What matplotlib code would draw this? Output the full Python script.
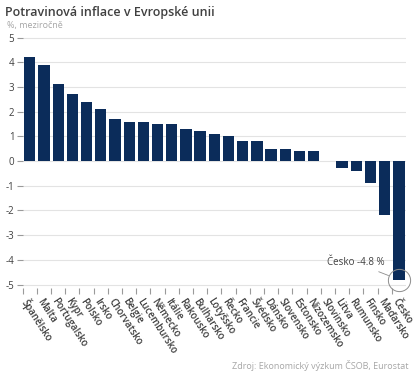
import matplotlib
matplotlib.use("Agg")
import matplotlib.pyplot as plt
import matplotlib.transforms as mtransforms
import numpy as np

# data
countries = ["Španělsko", "Malta", "Portugalsko", "Kypr", "Polsko", "Irsko",
             "Chorvatsko", "Belgie", "Lucembursko", "Německo", "Itálie",
             "Rakousko", "Bulharsko", "Lotyšsko", "Řecko", "Francie",
             "Švédsko", "Dánsko", "Slovensko", "Estonsko", "Nizozemsko",
             "Slovinsko", "Litva", "Rumunsko", "Finsko", "Maďarsko", "Česko"]
inflation = [4.2, 3.9, 3.1, 2.7, 2.4, 2.1, 1.7, 1.6, 1.6, 1.5, 1.5,
             1.3, 1.2, 1.1, 1.0, 0.8, 0.8, 0.5, 0.5, 0.4, 0.4,
             0.0, -0.3, -0.4, -0.9, -2.2, -4.8]
y_ticks = [5, 4, 3, 2, 1, 0, -1, -2, -3, -4, -5]
highlight = "Česko"

plt.rcParams['font.family'] = ['Open Sans', 'DejaVu Sans']
navy = "#0b2c5a"
dark = "#404040"
light = "#a6a6a6"

fig = plt.figure(figsize=(4.19, 3.81), dpi=100)
ax = fig.add_axes([0.0542, 0.2441, 0.9148, 0.6606])

x = np.arange(len(countries))
ax.bar(x, inflation, width=0.8, color=navy, linewidth=0, zorder=3)

ax.set_xlim(-0.5, len(countries) - 0.5)
ax.set_ylim(-5.14, 5.05)
ax.set_yticks(y_ticks)
ax.set_yticklabels([str(v) for v in y_ticks])
ax.grid(axis="y", color="#e3e3e3", linewidth=0.8, zorder=0)
for s in ax.spines.values():
    s.set_visible(False)

ax.tick_params(axis="y", length=4, width=0.8, color="#9a9a9a", labelsize=7,
               labelcolor=dark, pad=2)
ax.set_xticks(x)
ax.set_xticklabels(countries, rotation=-57, ha="left", va="top",
                   rotation_mode="anchor", fontsize=7, fontweight="semibold",
                   color=dark)
shift = mtransforms.ScaledTranslation(3 / 72, 0, fig.dpi_scale_trans)
for lab in ax.get_xticklabels():
    lab.set_transform(lab.get_transform() + shift)
ax.set_xticks(x - 0.5, minor=True)
ax.tick_params(axis="x", which="major", length=0, pad=6)
ax.tick_params(axis="x", which="minor", length=4, width=0.8, color="#9a9a9a")

# highlight Česko
i = countries.index(highlight)
v = inflation[i]
ax.plot([i], [v], marker="o", markersize=16, markerfacecolor="none",
        markeredgecolor="#8c8c8c", markeredgewidth=0.7, clip_on=False, zorder=4)
ax.annotate(f"{highlight} {v:.1f} %", xy=(i, v), xytext=(-10, 12),
            textcoords="offset points", ha="right", va="center",
            fontsize=7, color=dark,
            arrowprops=dict(arrowstyle="-", color="#8c8c8c", lw=0.6,
                            shrinkA=1, shrinkB=8))

fig.text(0.012, 0.968, "Potravinová inflace v Evropské unii", fontsize=9,
         fontweight="semibold", color=dark, ha="left", va="center")
fig.text(0.016, 0.932, "%, meziročně", fontsize=6.5, color=light,
         ha="left", va="center")
fig.text(0.976, 0.04, "Zdroj: Ekonomický výzkum ČSOB, Eurostat", fontsize=6.5,
         color=light, ha="right", va="center")

fig.savefig("out.png", dpi=100)
